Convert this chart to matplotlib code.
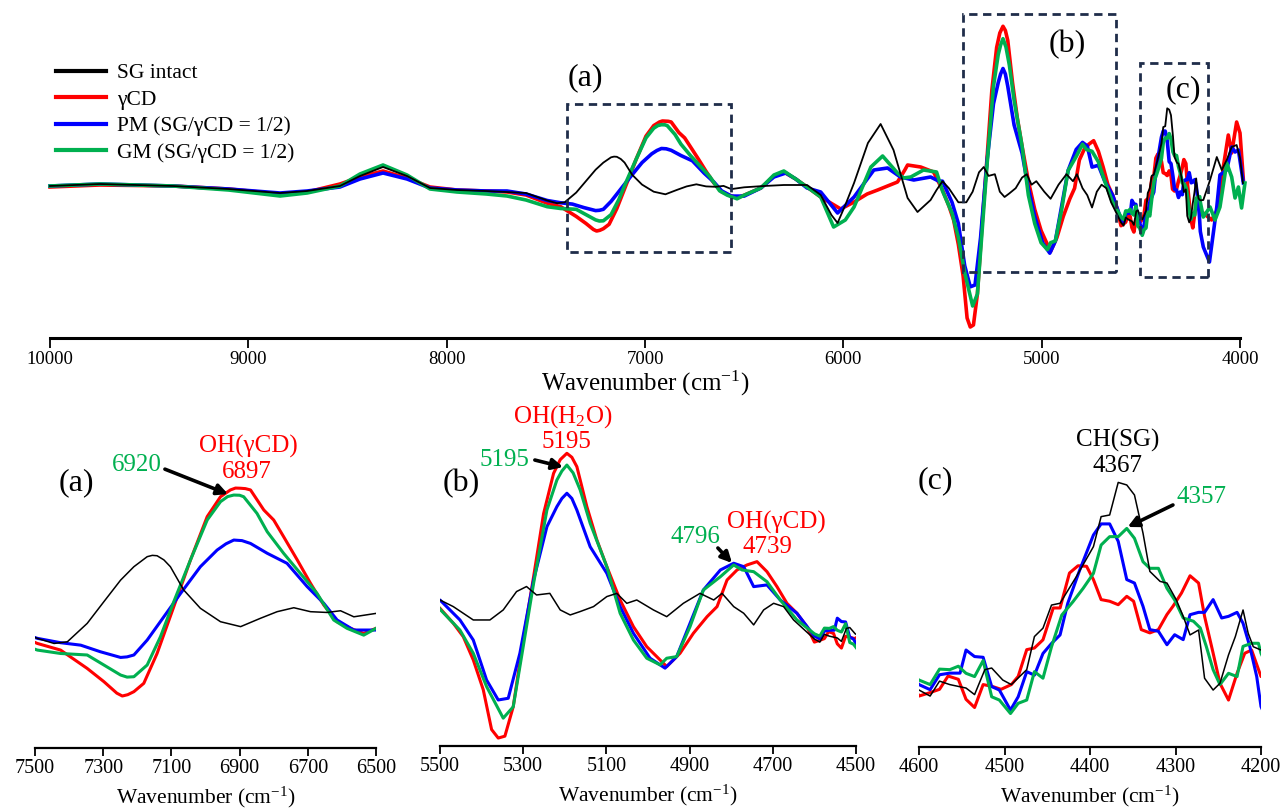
import matplotlib
matplotlib.use("Agg")
import matplotlib.pyplot as plt
from matplotlib.patches import Rectangle

plt.rcParams['font.family'] = ['Liberation Serif', 'DejaVu Serif']
plt.rcParams['mathtext.fontset'] = 'custom'
plt.rcParams['mathtext.rm'] = 'Liberation Serif'
plt.rcParams['mathtext.it'] = 'Liberation Serif:italic'

# ---------------- data (second-derivative NIR spectra, arbitrary units) ----------------
wn_black = [10000, 9748, 9380, 9100, 8840, 8704, 8538, 8437, 8321, 8200, 8084, 7948, 7800, 7696, 7600,
            7493, 7444, 7405, 7347, 7298, 7249, 7210, 7171, 7156, 7142, 7122, 7103, 7064, 7015, 6956, 6897, 6839,
            6790, 6741, 6692, 6644, 6604, 6565, 6500, 6400, 6300, 6183, 6114, 6060, 6029, 5990, 5946,
            5876, 5812, 5747, 5676, 5626, 5560, 5530,
            5500, 5468, 5420, 5380, 5348, 5316, 5292, 5268, 5236, 5211, 5187, 5163, 5131, 5099, 5075,
            5051, 5027, 4987, 4955, 4915, 4875, 4842, 4822, 4794, 4770, 4746, 4722, 4698, 4674, 4650,
            4600, 4587, 4576, 4564, 4545, 4535, 4523, 4515, 4502, 4492, 4474, 4465, 4455, 4445, 4435,
            4416, 4396, 4387, 4377, 4367, 4357, 4348, 4338, 4330, 4318, 4310, 4299, 4291, 4283, 4273,
            4266, 4256, 4248, 4238, 4230, 4221, 4215, 4209, 4200,
            4185, 4151, 4117, 4092, 4067, 4042, 4017, 4000, 3985]
y_black = [-1, 1, -1, -4, -8, -6, -1, 9, 18, 9, -3, -5, -6, -7, -8,
           -15.5, -18.2, -17.3, -7.6, 3.9, 15.3, 22.4, 27.7, 28.4, 28.2, 26, 22.4, 10.1, 0.4, -6.7, -9.3, -4.9,
           -1.4, 0.7, -1.4, -1.8, -0.9, -4.1, -2.3, -1, 0, 0, -10, -30, -38, -20, 2,
           42, 61, 35, -13, -27, -15, -5,
           3.8, -3.2, -17.3, -17.3, -6.7, 12.7, 18, 9.1, 10.8, -6.7, -12, -8.4, -3.2, 7.4, 10.8,
           0.3, 3.8, -6.7, -13.8, 0.3, 10.8, 3.8, 10.8, -3.2, -10.2, -22.5, -6.7, 0.3, -3.2, -17.3,
           -37.4, -40.7, -32.5, -34.4, -36.3, -39.9, -26.2, -25.3, -31.9, -34.4, -26.2, -8, -3.4, 9.3, 10.3,
           24.9, 41.4, 57.9, 58.8, 76.7, 75.3, 69.8, 48.8, 27.8, 22.3, 21.4, 12.1, 3.1, -7.1, -4.4,
           -30.9, -37.4, -33.7, -18.1, -8, 6.6, -6.2, -13.6, -15.4,
           -15, 5, 28, 15, 25, 38, 40, 27, 2]

wn_red = [10000, 9748, 9380, 9100, 8840, 8704, 8538, 8437, 8321, 8200, 8084, 7948, 7800, 7696, 7600,
          7493, 7425, 7347, 7298, 7260, 7244, 7228, 7210, 7181, 7142, 7093, 7044, 6995, 6956, 6927, 6912,
          6897, 6883, 6868,
          6829, 6800, 6771, 6731, 6692, 6653, 6614, 6575, 6536, 6500, 6416, 6350, 6300, 6240, 6183,
          6114, 6013, 5946, 5880, 5827, 5727, 5690, 5676, 5610, 5545,
          5500, 5468, 5444, 5420, 5396, 5376, 5360, 5344, 5324, 5300, 5275, 5251, 5227, 5211, 5195, 5183,
          5171, 5147, 5123, 5099, 5067, 5035, 5003, 4971, 4955, 4923, 4891, 4858, 4834, 4810, 4786, 4762,
          4738, 4714, 4690, 4666, 4642, 4618,
          4600, 4587, 4576, 4566, 4554, 4545, 4535, 4525, 4515, 4504, 4492, 4484, 4474, 4465, 4455,
          4443, 4435, 4424, 4414, 4404, 4396, 4387, 4377, 4367, 4357, 4349, 4340, 4330, 4320, 4310,
          4303, 4293, 4283, 4273, 4266, 4256, 4248, 4238, 4228, 4219, 4211, 4200,
          4185, 4143, 4109, 4084, 4059, 4042, 4017, 4000, 3983]
y_red = [-2, 0, -1, -4, -9, -7, 1, 8, 14, 7, -2, -5, -6, -7, -10,
         -18.2, -21.7, -31.4, -38.4, -44.5, -46, -45.3, -43.7, -39.3, -23.5, 1.2, 26, 48.9, 59.4, 63, 64,
         63.9, 63.7, 63,
         52.4, 47.1, 38.3, 26, 13.6, 2.1, -6.7, -10.2, -12.9, -10.2, -3, 9, 13, 6, -2,
         -12, -24, -17, -9, -5, 3, 15, 20, 18, 13,
         -5, -20.8, -35, -59.5, -91, -133, -142, -140, -109, -38.5, 28.4, 95, 137.5, 152, 158.7, 154.5,
         144.6, 102.4, 67.3, 39, 3.8, -24.4, -45.5, -59.5, -66.5, -52.5, -31.4, -13.8, -3.2, 24.9, 35.5, 40.8,
         44.3, 33.7, 17.9, 0.3, -10.2, -24.4,
         -40.7, -38.8, -37, -29.7, -31.5, -42.5, -47, -34.4, -35.3, -37, -34.4, -29.9, -15.2, -14.3, -9.8,
         7.7, 7.7, 26.9, 30.9, 30.6, 23.3, 12.3, 11.4, 9.5, 14.1, 11.4, -4.2, -6, -4.2, 4.1,
         8.6, 15.9, 25.4, 21.4, 3.1, -17.1, -33.7, -42.9, -28.2, -17.2, -15.4, -30,
         -28, -35, -23, 18, 50, 32, 63, 52, 5]

wn_blue = [10000, 9748, 9380, 9100, 8840, 8704, 8538, 8437, 8321, 8200, 8084, 7948, 7800, 7696, 7600,
           7493, 7425, 7366, 7308, 7249, 7230, 7210, 7171, 7122, 7073, 7015, 6966, 6940, 6917, 6893, 6868,
           6819, 6761,
           6702, 6653, 6614, 6565, 6500, 6416, 6350, 6290, 6240, 6183, 6114, 6029, 5946, 5846, 5777,
           5712, 5645, 5560, 5520,
           5500, 5452, 5420, 5388, 5360, 5336, 5308, 5275, 5243, 5219, 5207, 5195, 5183, 5171, 5139, 5099,
           5067, 5035, 4995, 4959, 4931, 4899, 4867, 4826, 4794, 4770, 4746, 4714, 4682, 4642,
           4600, 4587, 4576, 4564, 4552, 4545, 4535, 4525, 4515, 4506, 4493, 4484, 4474, 4465, 4455,
           4445, 4435, 4426, 4412, 4396, 4387, 4377, 4367, 4357, 4348, 4338, 4330, 4320, 4310, 4301,
           4291, 4283, 4273, 4266, 4256, 4246, 4238, 4228, 4221, 4213, 4205, 4200,
           4185, 4154, 4117, 4101, 4067, 4042, 4025, 4008, 3983]
y_blue = [-1, 1, -1, -4, -8, -6, -2, 6, 12, 6, -3, -5, -6, -6, -9,
          -15.5, -17.8, -19.1, -22.6, -25.6, -25.3, -24.3, -16.4, -4.1, 8.3, 22.4, 31.2, 34.5, 36.5, 36.2, 34.7,
          29.5, 24.2,
          11.9, 3, -5.8, -11.1, -11.1, -3, 8, 12, 6, -3, -7, -28, -12, 15, 17,
          8, 5, 8, 4,
          3.8, -17.3, -38.5, -80.7, -101.8, -100, -52.5, 25, 81.2, 102.4, 111, 116.5, 111, 98.8, 60, 32,
          -3.2, -31.4, -57.7, -68.2, -56, -20.8, 14.3, 35.5, 42.6, 39, 17.9, 19.7, 3.8, -10.2,
          -34.4, -37.2, -29, -28.1, -28.1, -15.4, -19, -19.4, -35.5, -37.4, -48.4, -41.1, -27.3, -29.2, -17.3,
          -11.8, -7.1, 10.3, 28.6, 47.8, 53.9, 53.9, 44.3, 23.3, 21.4, 8.6, -4.2, -5.1, -12.5, -7,
          -9.7, 4, 5.3, 5.3, 12.3, 2.2, 3.1, 5.3, -0.7, -13.6, -30, -46.5,
          -62, -77, -22, 10, 15, 38, 33, 35, 2]

wn_green = [10000, 9748, 9380, 9100, 8840, 8704, 8538, 8437, 8321, 8200, 8084, 7948, 7800, 7696, 7600,
            7493, 7425, 7347, 7298, 7249, 7230, 7210, 7171, 7132, 7093, 7044, 6995, 6956, 6935, 6917, 6900,
            6888, 6849,
            6819, 6771, 6722, 6673, 6624, 6585, 6536, 6500, 6416, 6350, 6300, 6240, 6183, 6114, 6049,
            5990, 5946, 5861, 5802, 5727, 5697, 5660, 5596, 5530,
            5500, 5452, 5420, 5388, 5348, 5324, 5300, 5275, 5243, 5219, 5207, 5195, 5180, 5163, 5139, 5099,
            5067, 5035, 5003, 4971, 4955, 4931, 4899, 4867, 4826, 4794, 4774, 4746, 4714, 4682, 4642,
            4600, 4587, 4576, 4564, 4554, 4545, 4535, 4525, 4515, 4506, 4493, 4484, 4474, 4465, 4455,
            4445, 4433, 4420, 4408, 4396, 4387, 4377, 4367, 4357, 4348, 4338, 4330, 4320, 4310, 4301,
            4291, 4279, 4271, 4264, 4256, 4248, 4238, 4228, 4221, 4211, 4203, 4200,
            4185, 4151, 4126, 4101, 4067, 4042, 4025, 4008, 3992, 3975]
y_green = [-1, 1, -1, -5, -11, -8, -1, 11, 20, 10, -4, -7, -9, -11, -15,
           -21.7, -23.5, -24.3, -29.6, -34.9, -36, -35.8, -29.6, -14.6, 3.9, 26, 47.1, 56.8, 59.5, 60.3, 60.2,
           59.4, 50.6,
           40.9, 29.5, 18.9, 8.3, -5.8, -10.2, -13.8, -10.2, -3, 10, 14, 6, -2, -12, -42,
           -35, -22, 18, 29, 12, 7, 8, 15, 13,
           -6, -28, -52.5, -87.7, -121, -109, -45.5, 21.4, 98.8, 130.5, 140, 146.3, 138, 120, 84.8, 39,
           -10.2, -38.5, -57.7, -64.7, -57.7, -56, -24.4, 14.3, 28.4, 40.8, 35.5, 33.7, 23.1, 3.8, -17.3,
           -31.9, -34.4, -25.9, -26.2, -24.3, -28.2, -30, -21.2, -41.1, -42.9, -50.3, -44.7, -42.9, -27.3, -30.9,
           -13.6, 3.8, 11.1, 18.5, 26.7, 42.3, 46.9, 46.9, 51.4, 46, 33.1, 29.5, 29.5, 18.5, 12.1,
           2.2, 0.4, -3.3, -13.4, -26.2, -34.4, -28.2, -30, -13.4, -11.7, -11.7, -17.2,
           -32, -22, -35, -22, 22, 8, -13, -2, -23, 2]

labels = ["SG intact", "γCD", "PM (SG/γCD = 1/2)", "GM (SG/γCD = 1/2)"]
colors = ["black", "#FF0000", "#0000FF", "#00B050"]
top_ticks = [10000, 9000, 8000, 7000, 6000, 5000, 4000]
ticks_a = [7500, 7300, 7100, 6900, 6700, 6500]
ticks_b = [5500, 5300, 5100, 4900, 4700, 4500]
ticks_c = [4600, 4500, 4400, 4300, 4200]

# ---------------- figure ----------------
W, H = 1285, 811
fig = plt.figure(figsize=(W / 100, H / 100), dpi=100)


def px_axes(left, right, top, bottom):
    return fig.add_axes([left / W, 1 - bottom / H, (right - left) / W, (bottom - top) / H])


def style(ax, lw_spine, ticklen, fs):
    for s in ['left', 'right', 'top']:
        ax.spines[s].set_visible(False)
    ax.spines['bottom'].set_linewidth(lw_spine)
    ax.set_yticks([])
    ax.tick_params(axis='x', direction='out', length=ticklen, width=1.3, labelsize=fs, pad=2)
    ax.set_facecolor('none')


series = [(wn_red, y_red, 1), (wn_blue, y_blue, 2), (wn_green, y_green, 3), (wn_black, y_black, 0)]

# top panel
ax = px_axes(50, 1240, 10, 338)
handles = {}
for wn, yy, ci in series:
    lw = 1.3 if ci == 0 else 2.6
    ln, = ax.plot(wn, yy, color=colors[ci], lw=lw, clip_on=False, solid_joinstyle='round')
    handles[ci] = ln
ax.set_xlim(10000, 4000)
ax.set_ylim(-153, 175)
ax.set_xticks(top_ticks)
ax.set_xticklabels([str(t) for t in top_ticks])
style(ax, 2.2, 7, 13.5)
ax.set_xlabel('Wavenumber (cm$^{\\mathrm{-1}}$)', fontsize=18, labelpad=1)

box_col = '#1F2D4A'
for (x0, x1, y0, y1) in [(7393, 6566, -67, 81), (5397, 4625, -87, 171), (4504, 4161, -92, 122)]:
    ax.add_patch(Rectangle((x1, y0), x0 - x1, y1 - y0, fill=False, ec=box_col, lw=2.0,
                           ls=(0, (3, 2)), clip_on=False, zorder=5))
ax.text(7302, 107, '(a)', fontsize=23, ha='center', va='center')
ax.text(4872, 140, '(b)', fontsize=23, ha='center', va='center')
ax.text(4287, 95, '(c)', fontsize=23, ha='center', va='center')

leg_h = [handles[i] for i in range(4)]
leg = ax.legend(leg_h, labels, loc='upper left', bbox_to_anchor=(56 / W, 1 - 63 / H),
                bbox_transform=fig.transFigure, frameon=False, fontsize=15.5,
                handlelength=2.3, handletextpad=0.55, labelspacing=0.3,
                borderpad=0, borderaxespad=0)
for lh in leg.get_lines():
    lh.set_linewidth(3)

# bottom panels
panels = [
    ((35, 376, 420, 748), (7500, 6500), (-73.5, 100), ticks_a),
    ((440, 856, 400, 746), (5500, 4500), (-150.4, 215), ticks_b),
    ((919, 1261, 420, 747), (4600, 4200), (-68.7, 111), ticks_c),
]
axs = []
for (l, r, t, b), xl, yl, tk in panels:
    a = px_axes(l, r, t, b)
    for wn, yy, ci in series:
        lw = 1.1 if ci == 0 else 2.2
        a.plot(wn, yy, color=colors[ci], lw=lw, solid_joinstyle='round')
    a.set_xlim(*xl)
    a.set_ylim(*yl)
    a.set_xticks(tk)
    a.set_xticklabels([str(v) for v in tk])
    style(a, 1.6, 6, 14.5)
    a.set_xlabel('Wavenumber (cm$^{\\mathrm{-1}}$)', fontsize=15.5, labelpad=5)
    axs.append(a)

red, green = colors[1], colors[3]
arrow = dict(arrowstyle='-|>', lw=2.6, color='black', mutation_scale=16, shrinkA=0, shrinkB=0)

a = axs[0]
a.text(7380, 66.7, '(a)', fontsize=23, ha='center', va='center')
a.text(7201, 76, '6920', fontsize=18, color=green, ha='center', va='center')
a.text(6875, 86, 'OH(γCD)', fontsize=18, color=red, ha='center', va='center')
a.text(6878, 72.5, '6897', fontsize=18, color=red, ha='center', va='center')
a.annotate('', xy=(6934, 60.8), xytext=(7119, 74), arrowprops=arrow)

a = axs[1]
a.text(5450, 126.3, '(b)', fontsize=23, ha='center', va='center')
a.text(5204, 197, 'OH(H$_{\\mathrm{2}}$O)', fontsize=18, color=red, ha='center', va='center')
a.text(5195, 170.6, '5195', fontsize=18, color=red, ha='center', va='center')
a.text(5344, 151.6, '5195', fontsize=18, color=green, ha='center', va='center')
a.annotate('', xy=(5204, 144.2), xytext=(5272, 151.6), arrowprops=arrow)
a.text(4885, 70.3, '4796', fontsize=18, color=green, ha='center', va='center')
a.text(4692, 86.2, 'OH(γCD)', fontsize=18, color=red, ha='center', va='center')
a.text(4712, 59.8, '4739', fontsize=18, color=red, ha='center', va='center')
a.annotate('', xy=(4798, 42.9), xytext=(4832, 58.7), arrowprops=arrow)

a = axs[2]
a.text(4581, 77.5, '(c)', fontsize=23, ha='center', va='center')
a.text(4368, 100, 'CH(SG)', fontsize=18, color='black', ha='center', va='center')
a.text(4368, 85.7, '4367', fontsize=18, color='black', ha='center', va='center')
a.text(4270, 68.7, '4357', fontsize=18, color=green, ha='center', va='center')
a.annotate('', xy=(4356, 52.2), xytext=(4303, 64.3), arrowprops=arrow)

fig.savefig('out.png', dpi=100)
